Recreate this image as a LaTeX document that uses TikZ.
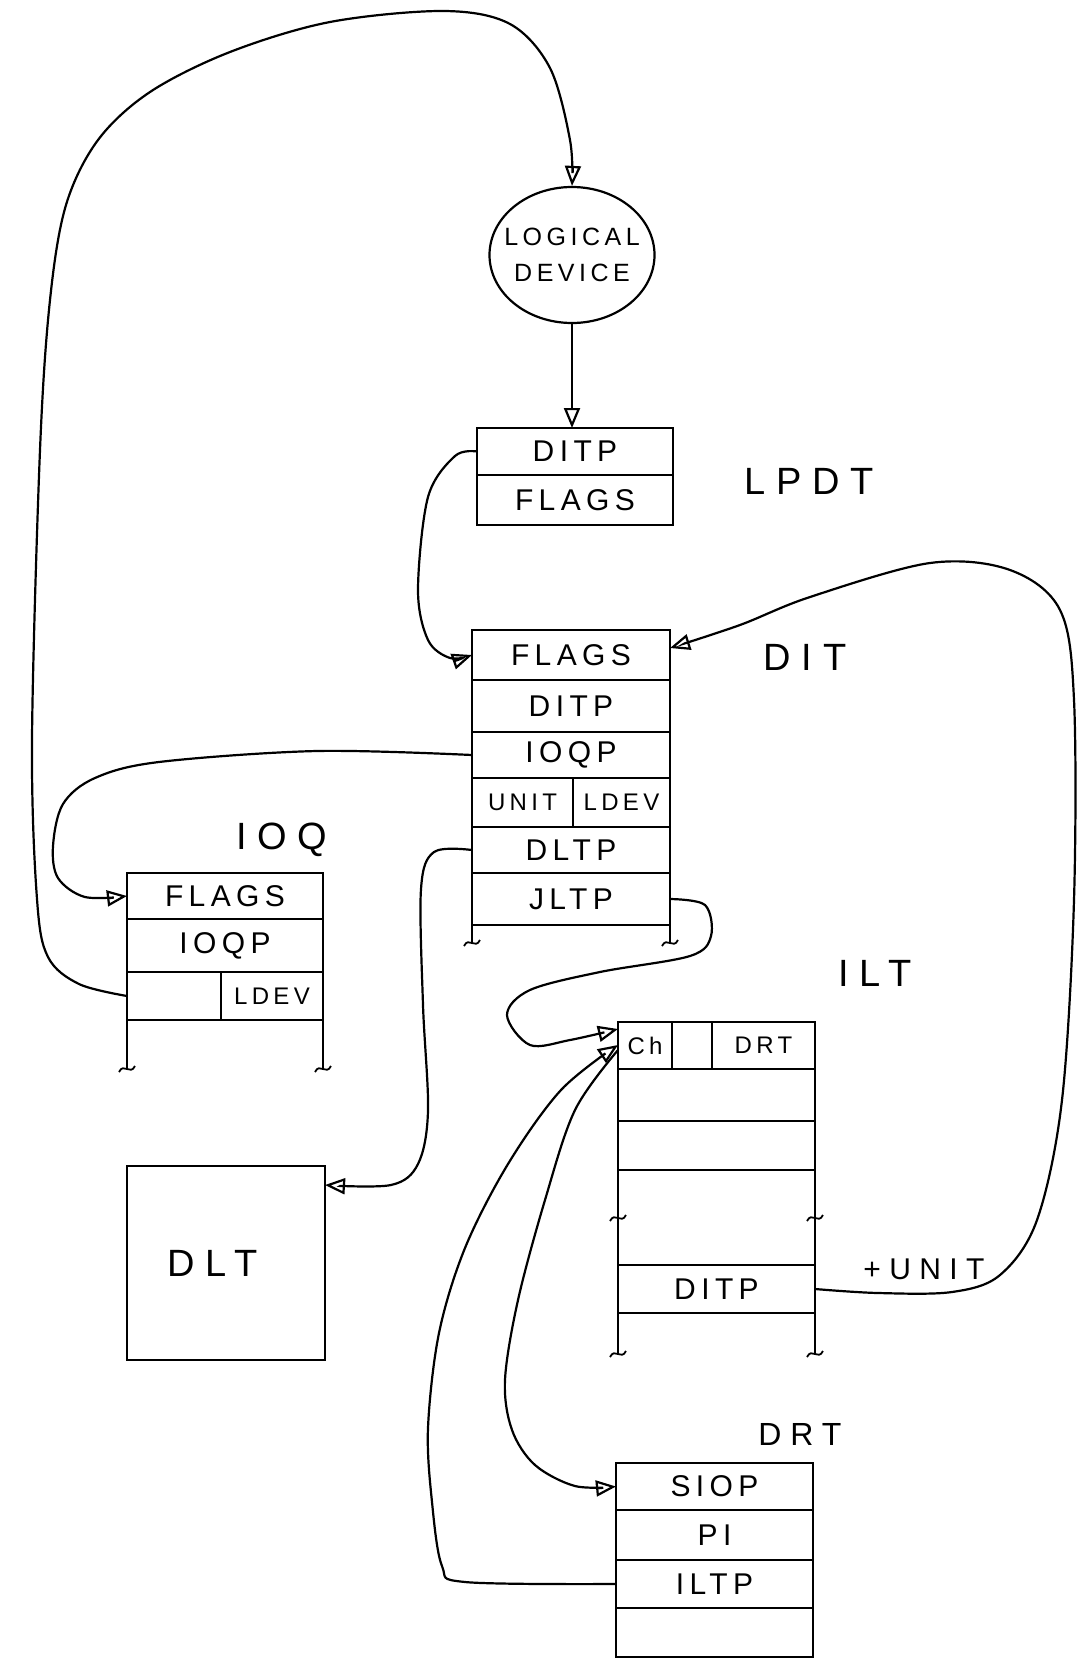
\documentclass[tikz,border=0pt]{standalone}
\usepackage{fontspec}
\setmainfont{Liberation Sans}
\newfontfamily\hand[LetterSpace=18]{Liberation Sans}
\newfontfamily\handw[LetterSpace=28]{Liberation Sans}
\usetikzlibrary{arrows.meta,shapes.geometric}
\begin{document}
\begin{tikzpicture}[x=0.5pt,y=-0.5pt, line width=1.1pt,
  cell/.style={draw, rectangle, inner sep=0pt, outer sep=0pt, font=\hand\fontsize{15}{18}\selectfont},
  small/.style={font=\hand\fontsize{12}{14}\selectfont},
  lbl/.style={font=\handw\fontsize{19}{22}\selectfont, inner sep=0pt},
  arr/.style={-{Triangle[open,length=10pt,width=8pt]}, line width=1.1pt},
  squig/.pic={\draw[line width=0.9pt] (-8,4) .. controls (-3,-6) and (3,8) .. (8,-2);}
]
\useasboundingbox (0,0) rectangle (1080,1659);

% logical device
\node[draw, ellipse, minimum width=82.5pt, minimum height=68pt, inner sep=0pt] (dev) at (572,255) {};
\node[align=center, inner sep=0pt, font=\hand\fontsize{12.5}{18}\selectfont] (devt) at (dev.center) {LOGICAL\\DEVICE};

% LPDT
\node[cell, minimum width=98pt, minimum height=23.5pt] (lpdt1) at (575,451.5) {DITP};
\node[cell, minimum width=98pt, minimum height=25pt] (lpdt2) at (575,500) {FLAGS};
\node[lbl] (lpdtl) at (809,481) {LPDT};

% DIT
\node[cell, minimum width=99pt, minimum height=25pt] (dit1) at (571,655) {FLAGS};
\node[cell, minimum width=99pt, minimum height=26pt] (dit2) at (571,706) {DITP};
\node[cell, minimum width=99pt, minimum height=23pt] (dit3) at (571,755) {IOQP};
\node[cell, small, minimum width=50.5pt, minimum height=24.5pt] (dit4a) at (522.5,802.5) {UNIT};
\node[cell, small, minimum width=48.5pt, minimum height=24.5pt] (dit4b) at (621.5,802.5) {LDEV};
\node[cell, minimum width=99pt, minimum height=23pt] (dit5) at (571,850) {DLTP};
\node[cell, minimum width=99pt, minimum height=26pt] (dit6) at (571,899) {JLTP};
\node[lbl] (ditl) at (805,657) {DIT};
\draw (dit6.south west) -- (472,942);
\draw (dit6.south east) -- (670,942);
\pic at (472,942) {squig};
\pic at (670,942) {squig};

% IOQ
\node[cell, minimum width=98pt, minimum height=23pt] (ioq1) at (225,896) {FLAGS};
\node[cell, minimum width=98pt, minimum height=26.5pt] (ioq2) at (225,945.5) {IOQP};
\node[cell, minimum width=47pt, minimum height=24pt] (ioq3a) at (174,996) {};
\node[cell, small, minimum width=51pt, minimum height=24pt] (ioq3b) at (272,996) {LDEV};
\node[lbl] (ioql) at (282,840) {IOQ};
\draw (ioq3a.south west) -- (127,1068);
\draw (ioq3b.south east) -- (323,1068);
\pic at (127,1068) {squig};
\pic at (323,1068) {squig};

% ILT
\node[cell, small, minimum width=27pt, minimum height=23.5pt] (iltch) at (645,1045.5) {Ch};
\node[cell, minimum width=20pt, minimum height=23.5pt] (iltb) at (692,1045.5) {};
\node[cell, small, minimum width=51.5pt, minimum height=23.5pt] (iltd) at (763.5,1045.5) {DRT};
\node[cell, minimum width=98.5pt, minimum height=26pt] (ilt2) at (716.5,1095) {};
\node[cell, minimum width=98.5pt, minimum height=24.5pt] (ilt3) at (716.5,1145.5) {};
\node[cell, minimum width=98.5pt, minimum height=24pt] (ilt4) at (716.5,1289) {DITP};
\draw (ilt3.south west) -- (ilt4.north west);
\draw (ilt3.south east) -- (ilt4.north east);
\pic at (618,1217) {squig};
\pic at (815,1217) {squig};
\draw (ilt4.south west) -- (618,1353);
\draw (ilt4.south east) -- (815,1353);
\pic at (618,1353) {squig};
\pic at (815,1353) {squig};
\node[lbl] (iltl) at (875,973) {ILT};
\node[lbl, font=\handw\fontsize{15}{18}\selectfont] (unitl) at (924,1269) {+UNIT};

% DRT
\node[cell, minimum width=98.5pt, minimum height=23.5pt] (drt1) at (714.5,1486.5) {SIOP};
\node[cell, minimum width=98.5pt, minimum height=25pt] (drt2) at (714.5,1535) {PI};
\node[cell, minimum width=98.5pt, minimum height=24pt] (drt3) at (714.5,1584) {ILTP};
\node[cell, minimum width=98.5pt, minimum height=24.5pt] (drt4) at (714.5,1632.5) {};
\node[lbl, font=\handw\fontsize{16}{19}\selectfont] (drtl) at (800,1434) {DRT};

% DLT
\node[cell, minimum width=99pt, minimum height=97pt] (dlt) at (226,1263) {};
\node[lbl] (dltt) at (213,1263) {DLT};

% connectors
\draw[arr] (dev.south) -- (dev.south |- lpdt1.north);

\draw[arr] plot[smooth, tension=0.55] coordinates {(ioq3a.west) (79,984) (48,957) (37,899) (32,740) (40,450) (50,300) (66,205) (98,140) (150,92) (230,52) (330,22) (444,11) (510,24) (550,68) (570,140) (dev.north)};

\draw[arr] plot[smooth, tension=0.55] coordinates {(lpdt1.west) (455,456) (428,497) (418,590) (428,640) (450,658) (dit1.west)};

\draw[arr] plot[smooth, tension=0.55] coordinates {(dit3.west) (317,751) (159,762) (95,778) (63,804) (53,846) (58,878) (85,897) (ioq1.west)};

\draw[arr] plot[smooth, tension=0.55] coordinates {(dit5.west) (434,852) (421,889) (423,1005) (428,1111) (418,1164) (391,1185) ([yshift=-9.5pt]dlt.north east)};

\draw[arr] plot[smooth, tension=0.55] coordinates {(dit6.east) (705,905) (711,936) (690,956) (600,972) (530,990) (507,1015) (530,1045) (570,1040) ([yshift=-3.5pt]iltch.north west)};

\draw[arr] plot[smooth, tension=0.55] coordinates {(drt3.west) (465,1582) (442,1566) (432,1502) (428,1428) (439,1333) (465,1248) (508,1164) (561,1090) ([yshift=-11.5pt]iltch.north west)};

\draw[arr] plot[smooth, tension=0.55] coordinates {([yshift=-14pt]iltch.north west) (575,1110) (545,1200) (518,1300) (505,1380) (512,1430) (535,1465) (575,1486) (drt1.west)};

\draw[arr] plot[smooth, tension=0.55] coordinates {(ilt4.east) (878,1293) (952,1292) (1000,1275) (1037,1220) (1062,1100) (1074,900) (1074,700) (1060,610) (1010,570) (930,563) (810,597) (740,625) ([yshift=-9pt]dit1.north east)};
\end{tikzpicture}
\end{document}
